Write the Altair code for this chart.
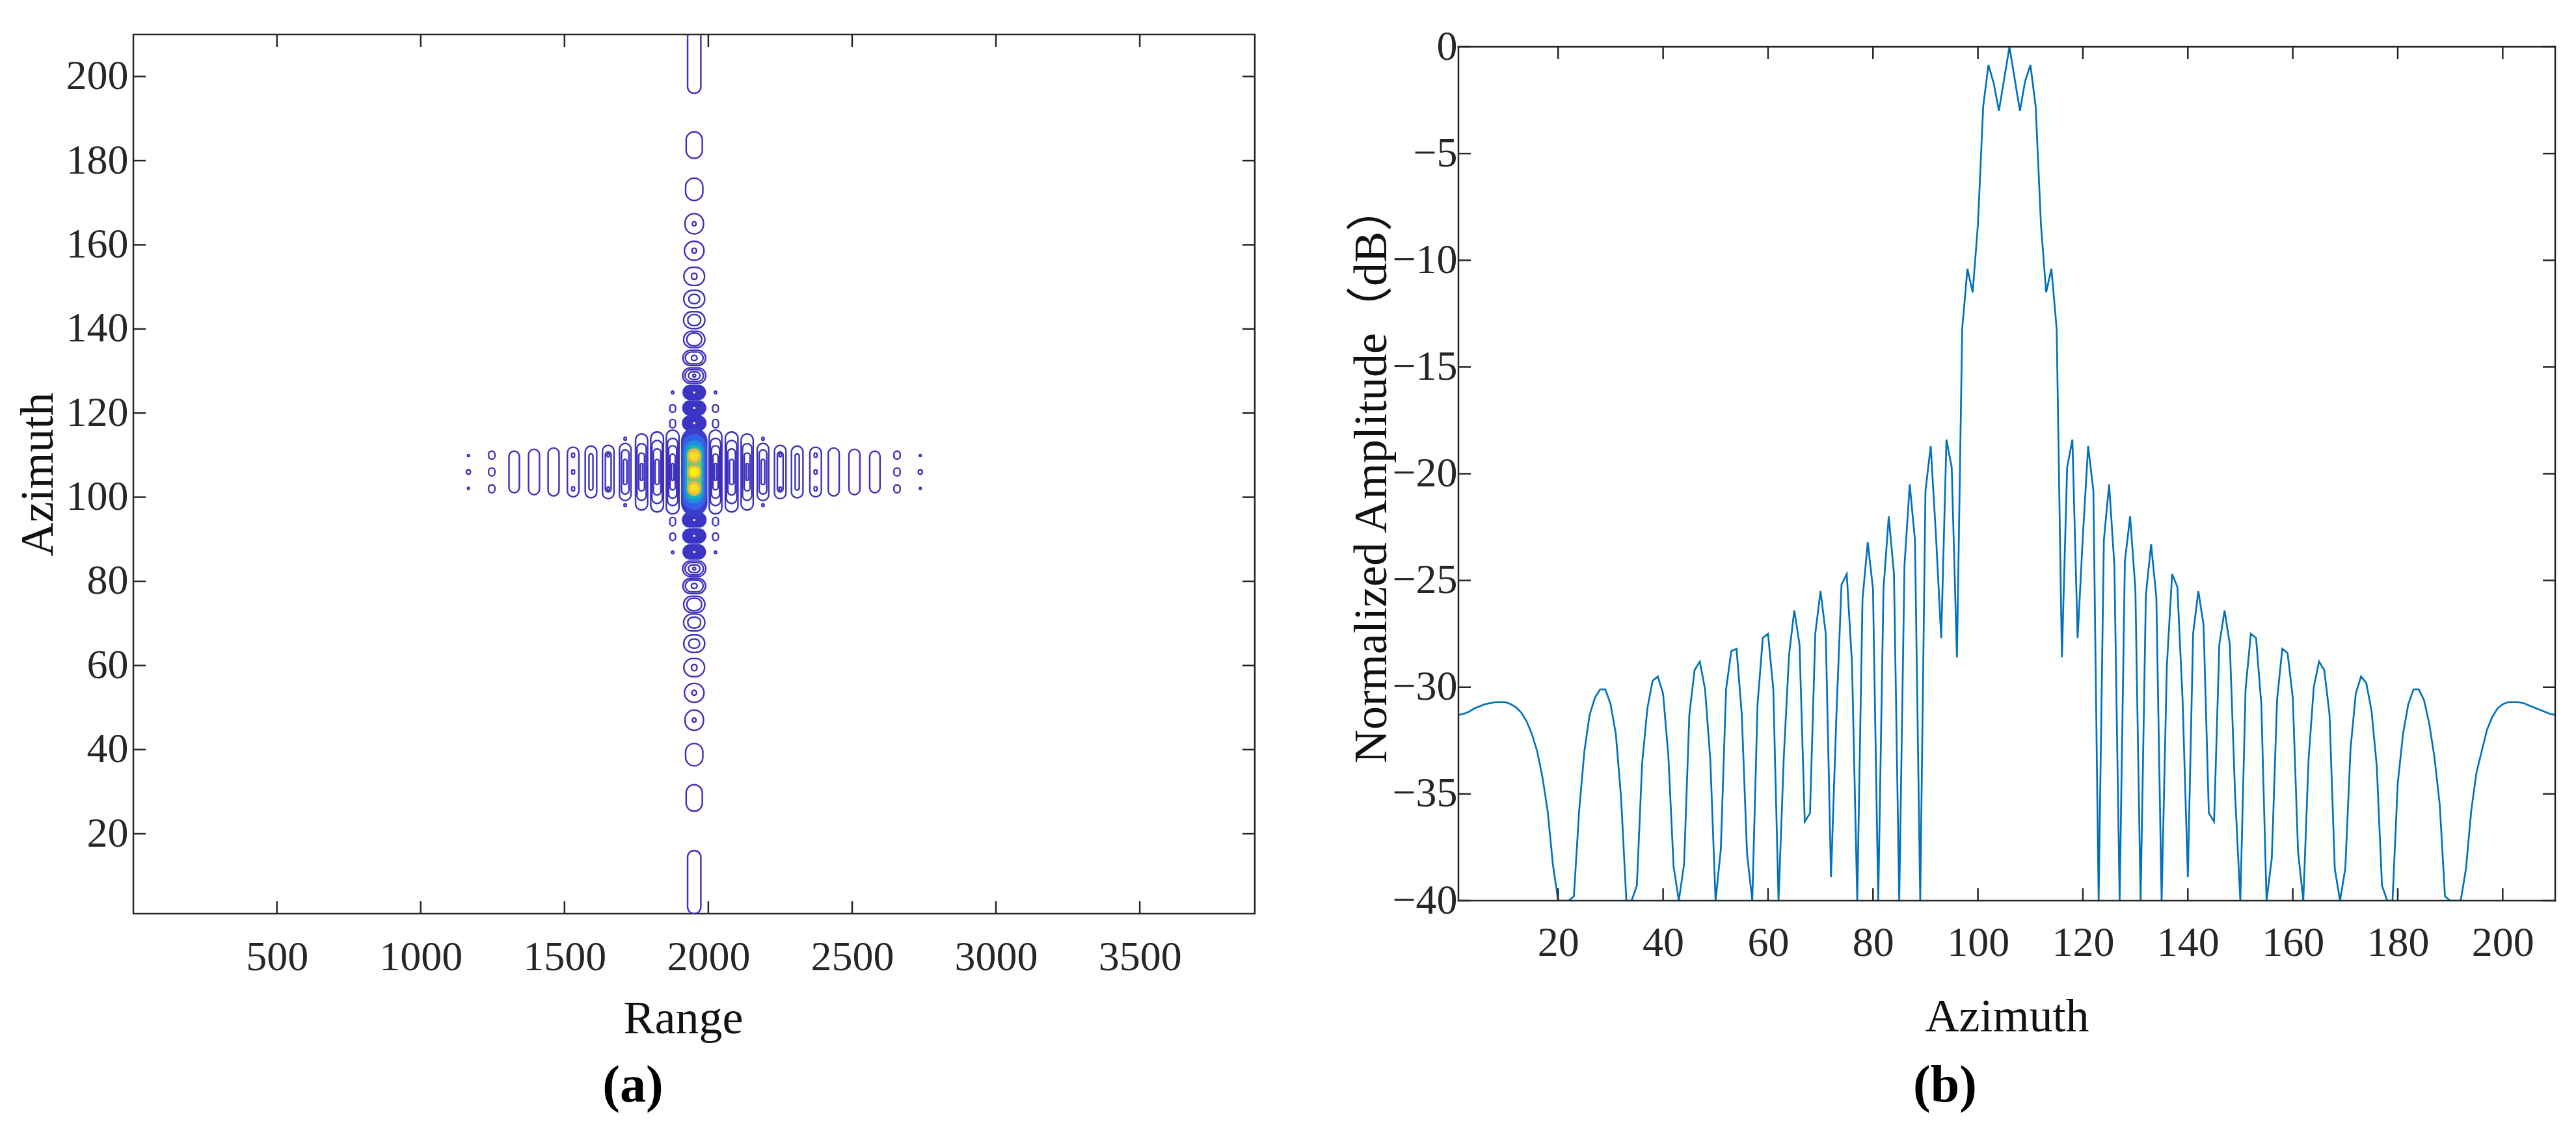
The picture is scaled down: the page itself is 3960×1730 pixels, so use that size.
import altair as alt
import pandas as pd

FONT = "Liberation Serif"
AX = "#262626"
TICK = 19

# ---------------- panel (b): azimuth profile ----------------
az_b = list(range(1, 211))
db_b = [
    -31.3, -31.25, -31.15, -31.0, -30.9, -30.8, -30.75, -30.7, -30.7, -30.7,
    -30.8, -30.95, -31.2, -31.6, -32.2, -33.0, -34.2, -35.8, -38.3, -40.0,
    -40.0, -40.0, -39.8, -35.8, -33.0, -31.3, -30.5, -30.1, -30.1, -30.8,
    -32.2, -35.2, -40.0, -40.0, -39.3, -33.6, -31.0, -29.7, -29.5, -30.3,
    -33.2, -38.4, -40.0, -38.3, -31.3, -29.2, -28.8, -30.1, -33.4, -40.0,
    -37.6, -30.1, -28.3, -28.2, -31.3, -37.8, -40.0, -30.8, -27.7, -27.5,
    -30.1, -40.0, -33.3, -28.5, -26.4, -28.0, -36.3, -35.9, -27.5, -25.5,
    -27.5, -38.9, -31.5, -25.2, -24.7, -28.9, -40.0, -25.9, -23.2, -25.4,
    -40.0, -25.4, -22.0, -24.7, -40.0, -24.3, -20.5, -23.1, -40.0, -20.8,
    -18.7, -22.9, -27.7, -18.4, -19.7, -28.6, -13.2, -10.4, -11.5, -8.3,
    -2.8, -0.85, -1.7, -3.0, -1.5, 0.0, -1.5, -3.0, -1.6, -0.85,
    -2.8, -8.3, -11.5, -10.4, -13.2, -28.6, -19.7, -18.4, -27.7, -22.9,
    -18.7, -20.8, -40.0, -23.1, -20.5, -24.3, -40.0, -24.1, -22.0, -25.4,
    -40.0, -25.7, -23.3, -25.8, -40.0, -29.0, -24.7, -25.3, -30.6, -38.9,
    -27.5, -25.5, -27.1, -35.9, -36.3, -28.0, -26.4, -28.0, -35.0, -40.0,
    -30.1, -27.5, -27.7, -30.8, -40.0, -38.0, -30.6, -28.2, -28.4, -30.5,
    -37.7, -40.0, -33.4, -30.0, -28.8, -29.2, -31.3, -38.5, -40.0, -38.5,
    -32.9, -30.3, -29.5, -29.8, -31.1, -33.7, -39.3, -40.0, -40.0, -34.5,
    -32.2, -30.8, -30.1, -30.1, -30.6, -31.7, -33.3, -35.5, -39.8, -40.0,
    -40.0, -40.0, -38.5, -35.8, -34.0, -33.0, -32.0, -31.4, -31.0, -30.8,
    -30.7, -30.7, -30.7, -30.75, -30.85, -30.95, -31.05, -31.15, -31.25, -31.3,
]
xb_ticks = [20, 40, 60, 80, 100, 120, 140, 160, 180, 200]
yb_ticks = [0, -5, -10, -15, -20, -25, -30, -35, -40]

# ---------------- panel (a): contour blobs ----------------
xa_ticks = [500, 1000, 1500, 2000, 2500, 3000, 3500]
ya_ticks = [20, 40, 60, 80, 100, 120, 140, 160, 180, 200]

# lobes along azimuth at the target range cell
col_range = 1951
col_az_up = [117.6, 121.2, 124.9, 128.9, 133.1, 137.5, 142.1, 147.1, 152.5, 158.6, 165.0, 173.2, 183.7, 203.5]
col_az_dn = [94.6, 90.8, 87.0, 83.0, 78.9, 74.5, 70.2, 65.2, 59.5, 53.5, 47.0, 38.8, 28.5, 8.5]
col_w = [[86, 78, 66, 48], [84, 74, 60, 40], [82, 70, 54, 32], [80, 64, 40, 10], [79, 62, 20],
         [74, 52], [74, 45], [73, 38], [72, 19], [68, 16], [64, 12], [60], [56], [46]]
col_h = [[3.7, 3.2, 2.7, 2.0], [3.7, 3.2, 2.6, 1.8], [3.7, 3.1, 2.4, 1.4], [3.7, 2.9, 1.8, 0.6], [3.6, 2.8, 1.2],
         [3.9, 3.0], [4.0, 2.6], [4.15, 2.2], [4.3, 1.5], [4.5, 1.2], [4.8, 1.0], [5.3], [6.3], [15.0]]
col_filled = [True, True, True] + [False] * 11

# lobes along range at the target azimuth
row_left = [1166, 1247, 1325, 1394, 1462, 1530, 1592, 1652, 1711, 1768, 1822, 1876]
row_right = [2737, 2656, 2579, 2508, 2436, 2373, 2309, 2250, 2190, 2135, 2081, 2025]
row_az = [[106, 109.9, 102.1], [110, 106, 102], [106], [106], [106], [106, 110, 106, 102],
          [106, 106], [106, 106, 110, 102], [106, 106, 106, 113.9, 98.1],
          [106, 106, 106, 106], [106, 106, 106, 106], [106, 106, 106, 106, 106]]
row_w = [[14, 6, 6], [22, 22, 22], [36], [38], [38], [40, 10, 10, 10],
         [40, 14], [40, 20, 8, 8], [40, 26, 12, 8, 8],
         [42, 32, 20, 8], [44, 36, 26, 14], [44, 36, 28, 18, 8]]
row_h = [[1.1, 0.5, 0.5], [1.9, 1.9, 1.9], [9.9], [10.8], [11.4], [11.8, 1.0, 1.0, 1.0],
         [12.3, 8.6], [12.7, 9.5, 0.8, 0.8], [13.6, 10.5, 6.0, 0.7, 0.7],
         [18.1, 13.5, 9.0, 4.0], [19.0, 15.0, 11.0, 6.0], [19.9, 16.0, 12.5, 8.5, 4.0]]

# small side contours next to the central column
side_range = [1876, 2025]
side_az = [124.9, 121.1, 117.5, 94.2, 90.6, 86.9]
side_w = [8, 20, 20, 20, 20, 8]
side_h = [0.6, 1.8, 2.0, 2.0, 1.8, 0.6]

# filled core (parula-like levels)
core_az = [106, 106, 106, 106, 106, 109.8, 106, 102.1, 109.8, 106, 102.1]
core_w = [92, 80, 68, 58, 50, 48, 48, 48, 32, 34, 32]
core_h = [21.0, 18.0, 15.0, 13.0, 11.5, 3.4, 3.4, 3.4, 2.0, 2.2, 2.0]
core_c = ["#3b3ec9", "#3460e6", "#1e8fdc", "#1ab0bf", "#78c078",
          "#e9bb40", "#e9bb40", "#e9bb40", "#f6dd26", "#f9f10f", "#f6dd26"]

LINE_C = "#3d30bd"

rings = []
fills = []
for az_list in (col_az_up, col_az_dn):
    for i, a in enumerate(az_list):
        if col_filled[i]:
            fills.append((col_range, a, col_w[i][0], col_h[i][0], "#3b34c4"))
            fills.append((col_range, a, 8, 0.5, "#ffffff"))
        else:
            for w, h in zip(col_w[i], col_h[i]):
                rings.append((col_range, a, w, h, LINE_C))
for side in (row_left, row_right):
    for i, r in enumerate(side):
        for a, w, h in zip(row_az[i], row_w[i], row_h[i]):
            rings.append((r, a, w, h, LINE_C))
for r in side_range:
    for a, w, h in zip(side_az, side_w, side_h):
        rings.append((r, a, w, h, LINE_C))
for a, w, h, c in zip(core_az, core_w, core_h, core_c):
    fills.append((col_range, a, w, h, c))


def to_df(items):
    return pd.DataFrame({
        "x1": [r - w / 2 for r, a, w, h, c in items],
        "x2": [r + w / 2 for r, a, w, h, c in items],
        "y1": [a - h / 2 for r, a, w, h, c in items],
        "y2": [a + h / 2 for r, a, w, h, c in items],
        "c": [c for r, a, w, h, c in items],
    })


ring_df = to_df(rings)
fill_df = to_df(fills)

# ---------------- layout constants ----------------
WA, HA = 1724, 1352
WB, HB = 1686, 1332      # panel (b) view; its axis box starts TOP_B px below the top
TOP_B = 19

lab = dict(labelFont=FONT, labelFontSize=64, labelColor=AX, ticks=False, tickSize=0,
           domain=False, grid=False, titleFont=FONT, titleFontSize=72,
           titleFontWeight="normal", titleColor="#111111", labelFlush=False)

xa_scale = alt.Scale(domain=[1, 3900], nice=False, zero=False)
ya_scale = alt.Scale(domain=[1, 210], nice=False, zero=False)
xa_axis = alt.Axis(values=xa_ticks, format="d", title="Range", labelPadding=35, titlePadding=27,
                   titleX=845, **lab)
ya_axis = alt.Axis(values=ya_ticks, format="d", title="Azimuth", labelPadding=8, titlePadding=6, **lab)

XA = lambda f: alt.X(f, type="quantitative", scale=xa_scale, axis=xa_axis)
YA = lambda f: alt.Y(f, type="quantitative", scale=ya_scale, axis=ya_axis)

ring_layer = alt.Chart(ring_df).mark_rect(filled=False, cornerRadius=9999, strokeWidth=2.4, clip=True).encode(
    x=XA("x1"), x2="x2", y=YA("y1"), y2="y2", color=alt.Color("c:N", scale=None))
fill_layer = alt.Chart(fill_df).mark_rect(cornerRadius=9999, clip=True).encode(
    x=XA("x1"), x2="x2", y=YA("y1"), y2="y2", color=alt.Color("c:N", scale=None))

xa_df = pd.DataFrame({"v": xa_ticks})
ya_df = pd.DataFrame({"v": ya_ticks})
ta_top = alt.Chart(xa_df).mark_rule(color=AX, strokeWidth=2.5).encode(x=XA("v"), y=alt.value(0), y2=alt.value(TICK))
ta_bot = alt.Chart(xa_df).mark_rule(color=AX, strokeWidth=2.5).encode(x=XA("v"), y=alt.value(HA - TICK), y2=alt.value(HA))
ta_lft = alt.Chart(ya_df).mark_rule(color=AX, strokeWidth=2.5).encode(y=YA("v"), x=alt.value(0), x2=alt.value(TICK))
ta_rgt = alt.Chart(ya_df).mark_rule(color=AX, strokeWidth=2.5).encode(y=YA("v"), x=alt.value(WA - TICK), x2=alt.value(WA))
cap_a = alt.Chart(pd.DataFrame({"t": ["(a)"]})).mark_text(
    font=FONT, fontSize=80, fontWeight="bold", color="black", align="center", baseline="middle").encode(
    text="t:N", x=alt.value(768), y=alt.value(1617))

chart_a = alt.layer(ring_layer, fill_layer, ta_top, ta_bot, ta_lft, ta_rgt, cap_a).properties(
    width=WA, height=HA)

# ---------------- panel (b) chart ----------------
xb_scale = alt.Scale(domain=[1, 210], nice=False, zero=False)
yb_scale = alt.Scale(domain=[-40, 0], range=[HB, TOP_B], nice=False, zero=False)
xb_axis = alt.Axis(values=xb_ticks, title="Azimuth", labelPadding=33, titlePadding=46, **lab)
yb_axis = alt.Axis(values=yb_ticks, title="Normalized Amplitude（dB）", labelPadding=2, titlePadding=-6,
                   titleY=(HB + TOP_B) / 2, **{**lab, "titleFont": FONT + ", Noto Sans CJK SC"})
XB = lambda f: alt.X(f, type="quantitative", scale=xb_scale, axis=xb_axis)
YB = lambda f: alt.Y(f, type="quantitative", scale=yb_scale, axis=yb_axis)

line_b = alt.Chart(pd.DataFrame({"az": az_b, "db": db_b})).mark_line(
    color="#0072BD", strokeWidth=2.7, clip=True).encode(x=XB("az"), y=YB("db"))
xb_df = pd.DataFrame({"v": xb_ticks})
yb_df = pd.DataFrame({"v": yb_ticks})
tb_top = alt.Chart(xb_df).mark_rule(color=AX, strokeWidth=2.5).encode(
    x=XB("v"), y=alt.value(TOP_B), y2=alt.value(TOP_B + TICK))
tb_bot = alt.Chart(xb_df).mark_rule(color=AX, strokeWidth=2.5).encode(
    x=XB("v"), y=alt.value(HB - TICK), y2=alt.value(HB))
tb_lft = alt.Chart(yb_df).mark_rule(color=AX, strokeWidth=2.5).encode(y=YB("v"), x=alt.value(0), x2=alt.value(TICK))
tb_rgt = alt.Chart(yb_df).mark_rule(color=AX, strokeWidth=2.5).encode(y=YB("v"), x=alt.value(WB - TICK), x2=alt.value(WB))
# axis box of panel (b)
box_df = pd.DataFrame({"lo": [-40], "hi": [0]})
box_l = alt.Chart(box_df).mark_rule(color=AX, strokeWidth=2.5, strokeCap="square").encode(
    y=YB("lo"), y2="hi", x=alt.value(0))
box_r = alt.Chart(box_df).mark_rule(color=AX, strokeWidth=2.5, strokeCap="square").encode(
    y=YB("lo"), y2="hi", x=alt.value(WB))
box_t = alt.Chart(box_df).mark_rule(color=AX, strokeWidth=2.5, strokeCap="square").encode(
    y=YB("hi"), x=alt.value(0), x2=alt.value(WB))
box_b = alt.Chart(box_df).mark_rule(color=AX, strokeWidth=2.5, strokeCap="square").encode(
    y=YB("lo"), x=alt.value(0), x2=alt.value(WB))
cap_b = alt.Chart(pd.DataFrame({"t": ["(b)"]})).mark_text(
    font=FONT, fontSize=80, fontWeight="bold", color="black", align="center", baseline="middle").encode(
    text="t:N", x=alt.value(748), y=alt.value(1617))

chart_b = alt.layer(line_b, tb_top, tb_bot, tb_lft, tb_rgt, box_l, box_r, box_t, box_b, cap_b).properties(
    width=WB, height=HB, view=alt.ViewBackground(stroke="transparent"))

chart = alt.hconcat(chart_a, chart_b, spacing=139).resolve_scale(
    x="independent", y="independent").configure_view(
    stroke=AX, strokeWidth=2.5).properties(
    padding={"left": 12, "top": 30, "right": 0, "bottom": 0}, background="white")

chart.save("out.html", embed_options={"renderer": "svg", "actions": False})
